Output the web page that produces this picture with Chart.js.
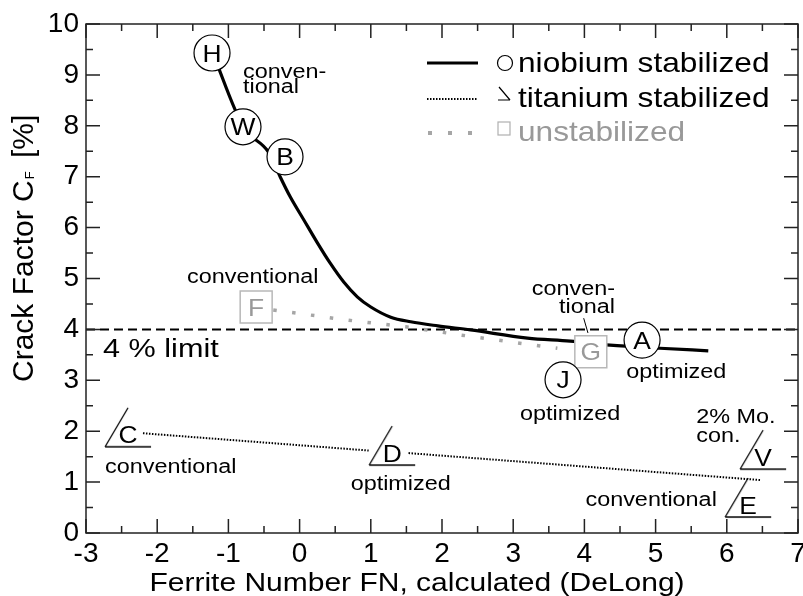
<!DOCTYPE html>
<html>
<head>
<meta charset="utf-8">
<script src="https://cdn.jsdelivr.net/npm/chart.js@4"></script>
<style>
  html, body { margin: 0; padding: 0; background: #fff; }
</style>
</head>
<body>
<canvas id="crackChart" width="803" height="596"></canvas>
<script>
// niobium stabilized curve
var niobiumX = [-1.22, -0.79, -0.43, -0.27, -0.13, 0.06, 0.25, 0.43, 0.62, 0.81, 1.00, 1.28, 1.56, 1.94, 2.40, 3.20, 3.80, 4.36, 5.06, 5.74];
var niobiumY = [9.43, 7.98, 7.47, 6.99, 6.60, 6.15, 5.70, 5.30, 4.93, 4.64, 4.44, 4.24, 4.15, 4.07, 3.99, 3.83, 3.77, 3.69, 3.63, 3.58];
// titanium stabilized line (gap behind the D mark)
var titaniumX = [-2.20, 0.97, 1.25, 1.53, 6.47];
var titaniumY = [1.96, 1.62, null, 1.57, 1.04];
// unstabilized line
var unstabX = [-0.37, 0.69, 1.49, 2.26, 3.09, 3.62];
var unstabY = [4.38, 4.18, 4.05, 3.89, 3.73, 3.63];
// 4 % limit
var limitX = [-3, 7];
var limitY = [4, 4];

// lettered marks
var nbLetters = ['H', 'W', 'B', 'A', 'J'];
var nbMarkX = [-1.23, -0.795, -0.205, 4.81, 3.70];
var nbMarkY = [9.43, 7.98, 7.39, 3.79, 3.01];
var tiLetters = ['C', 'D', 'V', 'E'];
var tiMarkX = [-2.41, 1.30, 6.51, 6.30];
var tiMarkY = [1.93, 1.57, 1.49, 0.55];
var unLetters = ['F', 'G'];
var unMarkX = [-0.61, 4.09];
var unMarkY = [4.44, 3.56];

// small notes next to the marks
var noteText  = ['conven-', 'tional', 'conventional', 'conven-', 'tional', 'optimized', 'optimized', 'conventional', 'optimized', '2% Mo.', 'con.', 'conventional'];
var noteX     = [-0.795, -0.795, -1.58, 4.43, 4.43, 5.29, 3.80, -1.81, 1.42, 5.57, 5.57, 5.86];
var noteY     = [8.94, 8.64, 4.91, 4.68, 4.32, 3.05, 2.22, 1.18, 0.845, 2.16, 1.79, 0.53];
var noteAlign = ['left', 'left', 'left', 'right', 'right', 'center', 'center', 'center', 'center', 'left', 'left', 'right'];

var FONT = '"Liberation Sans", Arial, sans-serif';
Chart.defaults.font.family = FONT;

function pts(xs, ys) {
    return xs.map(function(x, i) { return { x: x, y: ys[i] }; });
}

function stretchText(ctx, txt, x, y, size, align, color, sx) {
    ctx.save();
    ctx.font = size + 'px ' + FONT;
    ctx.fillStyle = color || '#000';
    ctx.textBaseline = 'alphabetic';
    ctx.textAlign = align || 'left';
    ctx.translate(x, y);
    ctx.scale(sx || 1.2, 1);
    ctx.fillText(txt, 0, 0);
    ctx.restore();
}

function triangleMark() {
    var c = document.createElement('canvas');
    c.width = 60; c.height = 60;
    var g = c.getContext('2d');
    g.strokeStyle = '#000';
    g.lineWidth = 1.3;
    g.beginPath();
    g.moveTo(7, 42); g.lineTo(30, 3);
    g.moveTo(7, 42); g.lineTo(53, 42);
    g.stroke();
    return c;
}

var framePlugin = {
    id: 'frame',
    afterDatasetsDraw: function(chart) {
        var ctx = chart.ctx, xs = chart.scales.x, ys = chart.scales.y, a = chart.chartArea;
        // frame and inward ticks
        ctx.save();
        ctx.strokeStyle = '#222';
        ctx.lineWidth = 1.5;
        ctx.strokeRect(a.left, a.top, a.right - a.left, a.bottom - a.top);
        ctx.beginPath();
        for (var v = -3; v <= 7.001; v += 0.5) {
            var px = xs.getPixelForValue(v);
            var len = Math.abs(v % 1) < 0.01 ? 14 : 7;
            ctx.moveTo(px, a.bottom); ctx.lineTo(px, a.bottom - len);
            ctx.moveTo(px, a.top); ctx.lineTo(px, a.top + len);
        }
        for (var w = 0; w <= 10.001; w += 0.5) {
            var py = ys.getPixelForValue(w);
            var l2 = Math.abs(w % 1) < 0.01 ? 14 : 7;
            ctx.moveTo(a.left, py); ctx.lineTo(a.left + l2, py);
            ctx.moveTo(a.right, py); ctx.lineTo(a.right - l2, py);
        }
        ctx.stroke();
        ctx.restore();

        // letters inside the marks
        function letters(dsIndex, list, color) {
            var meta = chart.getDatasetMeta(dsIndex);
            meta.data.forEach(function(el, i) {
                stretchText(ctx, list[i], el.x, el.y + 8.6, 24, 'center', color, 1.1);
            });
        }
        letters(4, nbLetters, '#000');
        letters(5, tiLetters, '#000');
        letters(6, unLetters, '#999');

        // notes
        noteText.forEach(function(t, i) {
            stretchText(ctx, t, xs.getPixelForValue(noteX[i]), ys.getPixelForValue(noteY[i]), 19.5, noteAlign[i], '#000', 1.2);
        });
        stretchText(ctx, '4 % limit', xs.getPixelForValue(-2.76), ys.getPixelForValue(3.46), 25.5, 'left', '#000', 1.2);
        ctx.save();
        ctx.strokeStyle = '#000';
        ctx.lineWidth = 1;
        ctx.beginPath();
        ctx.moveTo(xs.getPixelForValue(3.99), ys.getPixelForValue(4.22));
        ctx.lineTo(xs.getPixelForValue(4.05), ys.getPixelForValue(3.93));
        ctx.stroke();
        ctx.restore();

        // legend
        var lx = a.right - 371, ly = a.top;
        ctx.save();
        ctx.strokeStyle = '#000';
        ctx.lineWidth = 3;
        ctx.beginPath(); ctx.moveTo(lx, ly + 39); ctx.lineTo(lx + 51, ly + 39); ctx.stroke();
        ctx.lineWidth = 1.2;
        ctx.beginPath(); ctx.arc(lx + 78, ly + 39, 7.5, 0, Math.PI * 2); ctx.stroke();
        ctx.setLineDash([1.5, 1.5]);
        ctx.lineWidth = 2;
        ctx.beginPath(); ctx.moveTo(lx, ly + 75); ctx.lineTo(lx + 51, ly + 75); ctx.stroke();
        ctx.setLineDash([]);
        ctx.lineWidth = 1.2;
        ctx.beginPath();
        ctx.moveTo(lx + 72, ly + 63); ctx.lineTo(lx + 83, ly + 76);
        ctx.moveTo(lx + 71, ly + 76); ctx.lineTo(lx + 83, ly + 76);
        ctx.stroke();
        ctx.fillStyle = '#a6a6a6';
        [0, 20, 40].forEach(function(d) { ctx.fillRect(lx + 1 + d, ly + 107, 4, 4); });
        ctx.strokeStyle = '#b0b0b0';
        ctx.strokeRect(lx + 71, ly + 98, 12, 13);
        ctx.restore();
        stretchText(ctx, 'niobium stabilized', lx + 91, ly + 48, 28, 'left', '#000', 1.13);
        stretchText(ctx, 'titanium stabilized', lx + 91, ly + 83, 28, 'left', '#000', 1.13);
        stretchText(ctx, 'unstabilized', lx + 91, ly + 117, 28, 'left', '#999', 1.13);

        // axis titles
        stretchText(ctx, 'Ferrite Number FN, calculated (DeLong)', 417, 591, 25, 'center', '#000', 1.2);
        ctx.save();
        ctx.translate(33, 382);
        ctx.rotate(-Math.PI / 2);
        ctx.fillStyle = '#000';
        ctx.textBaseline = 'alphabetic';
        ctx.font = '30px ' + FONT;
        var main = 'Crack Factor C';
        ctx.fillText(main, 0, 0);
        var wMain = ctx.measureText(main).width;
        ctx.font = '13px ' + FONT;
        ctx.fillText('F', wMain + 1, 1);
        ctx.font = '30px ' + FONT;
        ctx.fillText('[%]', 224, 0);
        ctx.restore();
    }
};

var ctx = document.getElementById('crackChart').getContext('2d');
var crackChart = new Chart(ctx, {
    type: 'scatter',
    data: {
        datasets: [
            { label: 'niobium stabilized', type: 'line', data: pts(niobiumX, niobiumY), borderColor: '#000', borderWidth: 3.2, pointRadius: 0, cubicInterpolationMode: 'monotone', fill: false, order: 3 },
            { label: 'titanium stabilized', type: 'line', data: pts(titaniumX, titaniumY), borderColor: '#000', borderWidth: 2, borderDash: [1.5, 1.5], pointRadius: 0, fill: false, order: 3 },
            { label: 'unstabilized', type: 'line', data: pts(unstabX, unstabY), borderColor: '#a6a6a6', borderWidth: 3.5, borderDash: [3.5, 15.5], pointRadius: 0, fill: false, order: 3 },
            { label: '4 % limit', type: 'line', data: pts(limitX, limitY), borderColor: '#000', borderWidth: 2, borderDash: [9, 5], pointRadius: 0, fill: false, order: 4 },
            { label: 'Nb marks', data: pts(nbMarkX, nbMarkY), pointStyle: 'circle', pointRadius: 18, pointBackgroundColor: '#fff', pointBorderColor: '#000', pointBorderWidth: 1.2, order: 0 },
            { label: 'Ti marks', data: pts(tiMarkX, tiMarkY), pointStyle: triangleMark(), pointRadius: 10, order: 0 },
            { label: 'unstab marks', data: pts(unMarkX, unMarkY), pointStyle: 'rect', pointRadius: 22.6, pointBackgroundColor: '#fff', pointBorderColor: '#b8b8b8', pointBorderWidth: 1.5, order: 1 }
        ]
    },
    options: {
        responsive: false,
        animation: false,
        events: [],
        layout: { autoPadding: false, padding: { top: 24, right: 5, left: 0, bottom: 0 } },
        scales: {
            x: {
                type: 'linear', min: -3, max: 7,
                grid: { display: false, drawTicks: false },
                border: { display: false },
                ticks: { stepSize: 1, padding: 4, color: '#000', font: { size: 28 }, maxRotation: 0, autoSkip: false },
                afterFit: function(s) { s.height = 63; s.paddingLeft = 0; s.paddingRight = 0; }
            },
            y: {
                type: 'linear', min: 0, max: 10,
                grid: { display: false, drawTicks: false },
                border: { display: false },
                ticks: { stepSize: 1, padding: 7, color: '#000', font: { size: 28 } },
                afterFit: function(s) { s.width = 86; s.paddingTop = 0; s.paddingBottom = 0; }
            }
        },
        plugins: {
            legend: { display: false },
            tooltip: { enabled: false }
        }
    },
    plugins: [framePlugin]
});
</script>
</body>
</html>
